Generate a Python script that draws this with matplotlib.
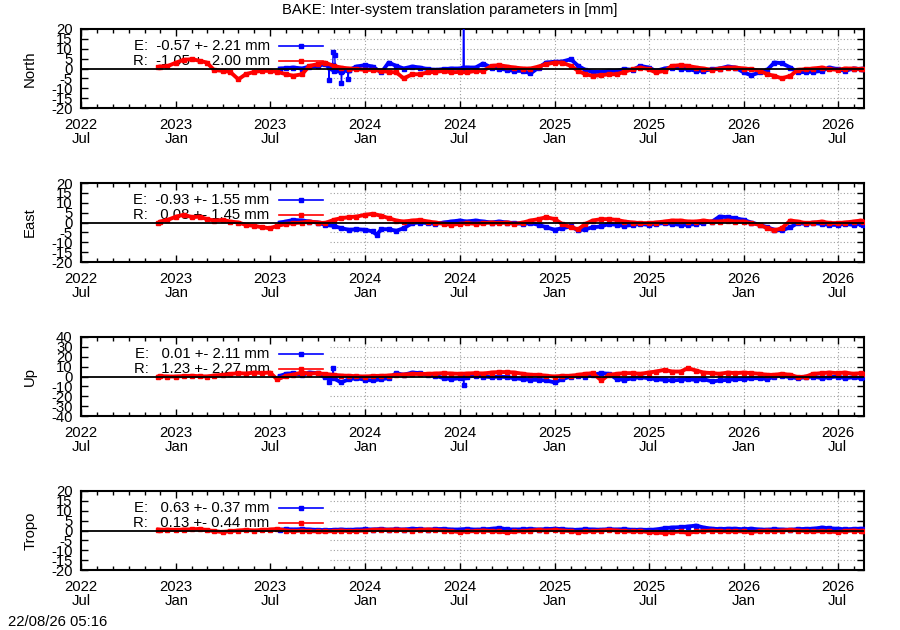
import numpy as np
import pandas as pd
import matplotlib
matplotlib.use('Agg')
import matplotlib.pyplot as plt

plt.rcParams['font.family'] = ['Liberation Sans', 'DejaVu Sans']
plt.rcParams['font.size'] = 10.7

# sampling dates (1st and 15th of each month), series start/end days
red_dates = ([pd.Timestamp('2022-11-27')]
             + list(pd.date_range('2022-12-01', '2026-08-15', freq='SMS'))
             + [pd.Timestamp('2026-08-20')])
blue_dates = ([pd.Timestamp('2023-07-20')]
              + list(pd.date_range('2023-08-01', '2026-08-15', freq='SMS'))
              + [pd.Timestamp('2026-08-20')])

# ---------------- North ----------------
north_r = [0.8, 1.0, 1.2,
           3.0, 4.4, 4.7, 3.9, 3.0, -0.8, -1.2, -1.7, -5.5, -2.9, -1.7, -1.2,
           -1.2, -1.7, -2.9, -3.7, -2.9, 1.3, 2.2, 3.0, 1.3, 0.5, 0.0, -0.3,
           -0.7, -0.7, -1.2, -1.7, -2.0, -5.0, -2.9, -2.9, -2.0, -1.7, -1.2, -2.0,
           -1.7, -2.0, -1.2, -1.2, 1.3, 1.7, 1.0, 0.5, 0.0, 0.0, 1.0, 2.2,
           3.0, 3.0, 1.3, -1.2, -2.9, -3.7, -3.4, -2.9, -2.9, -1.7, -0.3, 0.5,
           -0.3, -2.0, -1.2, 1.3, 1.7, 1.3, 0.5, 0.0, -0.7, 0.0, 0.5, 0.5,
           0.0, -0.3, -1.2, -2.9, -3.7, -5.0, -3.7, -0.7, -0.3, 0.0, 0.5, -0.3,
           -0.7, 0.0, 0.0, -0.3, -0.3]
north_e = [0.0, 0.2, 0.5, 0.0, 1.0, 1.3, 2.2, -1.2, -1.7, -0.7, 1.0,
           1.7, 1.0, -2.0, 3.0, 1.3, 0.0, 1.0, 0.5, -0.3, -0.7, -0.3, 0.0,
           0.0, 0.5, 0.5, 2.5, 0.5, 0.0, -0.7, -1.2, -1.2, -2.5, 0.5, 3.0,
           3.4, 3.5, 4.7, 1.3, -0.7, -1.7, -1.7, -1.2, -1.2, -0.3, -0.7, 1.3,
           0.5, -1.2, 0.0, 0.5, 0.0, -0.3, -1.2, -1.2, -0.3, 0.0, 1.0, 0.5,
           -2.0, -3.4, -2.0, -0.7, 3.0, 2.7, 0.5, -2.0, -1.7, -1.7, -1.2, 0.5,
           -0.3, -1.2, 0.0, -0.3, -0.3]
# isolated outliers of E (drawn as thin excursions)
north_e_spike_dates = [['2023-10-22', '2023-10-23', '2023-10-24'],
                       ['2023-10-30', '2023-10-31', '2023-11-03', '2023-11-04'],
                       ['2023-11-15', '2023-11-16', '2023-11-17'],
                       ['2023-11-28', '2023-11-29', '2023-11-30'],
                       ['2024-07-08', '2024-07-09', '2024-07-10']]
north_e_spike_vals = [[1.0, -5.7, 0.5],
                      [2.0, 8.4, 6.8, 0.0],
                      [-1.0, -7.4, -1.5],
                      [-1.0, -5.4, -1.0],
                      [0.3, 60.0, 0.3]]

# ---------------- East ----------------
east_r = [-0.3, 0.5, 1.3,
          3.0, 3.9, 2.7, 3.0, 1.7, 1.0, 1.3, 0.5, 0.0, -1.2, -1.7, -2.4,
          -2.9, -1.7, -0.7, -0.3, 0.0, 0.5, 0.0, -0.3, 1.3, 2.2, 2.7, 3.0,
          3.9, 4.4, 3.4, 2.2, 1.0, 0.5, 1.0, 1.3, 0.5, 0.0, -0.7, -1.2,
          -0.7, -0.3, -0.7, -0.3, 0.0, -0.3, 0.0, -0.7, 0.0, 1.0, 1.7, 2.7,
          1.7, -0.7, -2.4, -3.5, -0.7, 1.0, 1.7, 1.7, 1.3, 0.5, 0.0, -0.3,
          -0.3, 0.0, 0.5, 1.0, 1.0, 0.5, 0.5, 1.0, 0.5, 0.5, 1.0, 0.5,
          0.5, -0.3, -1.2, -2.9, -4.0, -2.9, 1.0, 0.5, -0.3, 0.0, 0.5, -0.3,
          -0.3, 0.0, 0.5, 1.0, 0.5]
east_e = [0.0, 0.5, 1.3, 1.0, 0.5, 0.0, -1.2, -1.7, -2.9, -3.7, -3.4,
          -3.7, -4.5, -3.4, -3.4, -4.2, -2.9, -0.3, 0.0, -0.3, -0.7, 0.0, 0.5,
          1.0, 0.5, 1.0, 0.5, 0.0, 0.5, 0.0, -0.3, -0.7, -0.3, -1.2, -2.4,
          -3.7, -2.9, -2.0, -4.0, -3.4, -2.4, -2.0, -0.7, -1.2, -1.7, -1.2, -0.7,
          -1.2, -0.7, -0.3, -0.7, -1.2, -1.2, -0.7, 0.0, 0.5, 3.0, 2.7, 2.2,
          1.3, 0.0, -1.2, -2.4, -3.7, -4.0, -2.4, -0.3, -0.7, -0.3, -0.7, -1.2,
          -1.2, -0.7, -1.2, -0.7, -1.2]
east_e_extra_dates = ['2024-01-23']
east_e_extra_vals = [-6.2]

# ---------------- Up ----------------
up_r = [0.0, 0.5, 0.0,
        0.0, 0.5, 0.7, 0.3, 0.0, 1.0, 1.7, 2.5, 3.4, 3.0, 4.0, 3.5,
        4.0, -3.0, 0.7, 2.0, 4.0, 3.0, 3.4, 2.5, 1.7, 1.0, 0.7, 0.3,
        0.0, 0.5, 0.7, 1.0, 1.7, 2.0, 2.7, 2.5, 2.7, 3.0, 3.4, 3.0,
        2.7, 3.0, 3.4, 3.0, 4.0, 4.5, 4.5, 4.0, 2.7, 1.7, 1.7, 0.7,
        0.0, 0.7, 0.7, 1.7, 2.7, 3.4, -4.0, 1.7, 2.7, 3.4, 3.4, 2.7,
        4.0, 5.0, 6.8, 5.0, 5.0, 8.4, 6.0, 4.0, 3.4, 2.7, 4.0, 3.4,
        4.0, 3.4, 2.7, 1.7, 1.7, 2.7, 1.7, -0.7, 0.0, 2.7, 3.4, 4.0,
        3.4, 4.0, 2.7, 3.4, 2.7]
up_e = [0.5, 2.7, 3.4, 1.7, 4.0, 3.4, -1.0, -1.7, -6.0, -2.7, -1.7,
        -3.4, -4.0, -2.7, -1.7, 3.4, 1.7, 4.0, 3.4, 1.7, 0.7, -1.7, -2.7,
        -1.7, 0.0, 0.7, 0.0, -0.7, 0.0, -0.7, -1.7, -2.7, -3.4, -3.4, -4.0,
        -6.0, -2.7, 0.0, 0.7, 0.0, 1.7, 3.4, 2.7, -2.7, -3.4, -1.7, -0.7,
        -1.7, -2.7, -3.4, -4.0, -3.4, -2.7, -3.4, -2.7, -5.0, -4.0, -3.4, -2.7,
        -2.7, -1.7, -1.7, -2.7, 0.0, 0.7, -0.7, -1.7, -0.7, 0.0, -1.7, -0.7,
        0.0, -1.7, -0.7, -1.7, -0.7]
up_e_spike_dates = [['2023-10-22', '2023-10-23', '2023-10-24'],
                    ['2023-10-30', '2023-10-31', '2023-11-01'],
                    ['2024-07-08', '2024-07-09', '2024-07-10']]
up_e_spike_vals = [[1.0, -6.0, 0.0],
                   [1.0, 9.0, 0.0],
                   [-1.0, -8.4, -1.0]]

# ---------------- Tropo ----------------
tropo_r = [0.5, 0.3, 0.5,
           0.3, 0.5, 0.6, 0.8, 0.2, -0.3, -0.8, -0.3, 0.0, 0.3, 0.0, 0.3,
           0.5, 0.8, 0.0, -0.3, 0.0, -0.3, -0.5, -0.5, -0.3, 0.0, -0.3, -0.2,
           0.0, 0.3, 0.5, 0.3, 0.5, 0.3, 0.0, 0.3, 0.5, 0.3, 0.0, -0.3,
           -0.8, -0.5, -0.3, 0.0, -0.3, -0.5, -1.0, -0.5, -0.3, 0.0, 0.3, 0.0,
           0.3, 0.0, -0.3, -0.8, -0.5, -0.3, 0.0, 0.3, 0.0, -0.3, -0.5, -0.3,
           -0.8, -1.0, -1.3, -0.8, -0.5, -1.3, -0.5, -0.3, 0.0, -0.3, -0.5, -0.3,
           -0.5, -0.8, -0.3, 0.0, -0.3, 0.0, 0.3, 0.0, -0.3, -0.5, -0.3, -0.5,
           -0.8, -0.3, 0.0, -0.3, -0.3]
tropo_e = [0.3, 0.7, 0.5, 0.7, 0.5, 0.3, 0.2, 0.3, 0.5, 0.3, 0.5,
           0.7, 0.5, 0.8, 0.4, 0.7, 0.5, 0.9, 0.7, 0.4, 0.7, 0.8, 0.5,
           0.5, 0.8, 0.4, 0.6, 0.8, 1.3, 0.6, 0.5, 0.6, 0.8, 0.5, 0.7,
           0.9, 0.7, 0.4, 0.3, 0.7, 0.5, 0.4, 0.7, 0.5, 0.7, 0.3, 0.4,
           0.3, 0.5, 1.2, 1.5, 1.7, 2.0, 2.5, 1.5, 0.9, 0.7, 0.9, 0.9,
           0.6, 0.9, 0.5, 0.4, 0.7, 0.5, 0.4, 0.7, 0.8, 0.9, 1.5, 1.1,
           0.9, 0.6, 0.8, 0.9, 0.6]

panels = [
    ('North', north_r, north_e, [], [], north_e_spike_dates, north_e_spike_vals, 20,
     'E:  -0.57 +- 2.21 mm', 'R:  -1.05 +- 2.00 mm'),
    ('East', east_r, east_e, east_e_extra_dates, east_e_extra_vals, [], [], 20,
     'E:  -0.93 +- 1.55 mm', 'R:   0.08 +- 1.45 mm'),
    ('Up', up_r, up_e, [], [], up_e_spike_dates, up_e_spike_vals, 40,
     'E:   0.01 +- 2.11 mm', 'R:   1.23 +- 2.27 mm'),
    ('Tropo', tropo_r, tropo_e, [], [], [], [], 20,
     'E:   0.63 +- 0.37 mm', 'R:   0.13 +- 0.44 mm'),
]

W, H = 900, 630
fig = plt.figure(figsize=(9, 6.3), dpi=100)
fig.text(0.5, 1 - 10 / H, 'BAKE: Inter-system translation parameters in [mm]',
         ha='center', va='center')
fig.text(8 / W, 1 - 622 / H, '22/08/26 05:16', ha='left', va='center')

xmin, xmax = pd.Timestamp('2022-07-01'), pd.Timestamp('2026-08-21')
major = pd.date_range('2022-07-01', '2026-07-01', freq='6MS')
minor = pd.date_range('2022-07-01', '2026-08-01', freq='MS')
grid_start = pd.Timestamp('2023-10-25')
tops = [29, 183, 337, 491]
grey = '#a0a0a0'
blue, red = '#0000ff', '#ff0000'

for (name, rv, ev, xd, xv, sd, sv, lim, etxt, rtxt), top in zip(panels, tops):
    ax = fig.add_axes([81 / W, 1 - (top + 79) / H, 783 / W, 79 / H])
    step = lim / 4
    yt = np.arange(-lim, lim + step, step)

    e = pd.Series(ev, index=blue_dates)
    if xd:
        e = pd.concat([e, pd.Series(xv, index=pd.to_datetime(xd))]).sort_index()
    r = pd.Series(rv, index=red_dates)

    ax.plot(e.index, e.values, color=blue, lw=2.8, marker='s', ms=2.5, zorder=3)
    for dd, vv in zip(sd, sv):
        ax.plot(pd.to_datetime(dd), vv, color=blue, lw=1.0, marker='s', ms=2.5, zorder=3)
    ax.plot(r.index, r.values, color=red, lw=2.8, marker='s', ms=2.5, zorder=4)
    ax.axhline(0, color='black', lw=1.3, zorder=5)

    # grid only to the right of the key
    gx = (grid_start - xmin) / (xmax - xmin)
    for y in yt[1:-1]:
        if y != 0:
            ax.axhline(y, xmin=gx, xmax=1, color=grey, lw=0.8, ls=(0, (1, 2)), zorder=1)
    for d in major:
        if d >= grid_start:
            ax.axvline(d, color=grey, lw=0.8, ls=(0, (1, 2)), zorder=1)

    ax.set_xlim(xmin, xmax)
    ax.set_ylim(-lim, lim)
    ax.set_yticks(yt)
    ax.set_yticklabels([f'{int(v)}' for v in yt])
    ax.set_xticks(major)
    ax.set_xticklabels([f'{d.year}\n{d:%b}' for d in major], linespacing=1.0)
    ax.set_xticks(minor, minor=True)
    ax.tick_params(which='both', direction='in', top=True, right=True, width=1)
    ax.tick_params(which='major', length=5)
    ax.tick_params(which='minor', length=3)
    ax.tick_params(axis='x', pad=7)
    ax.tick_params(axis='y', pad=6)
    for s in ax.spines.values():
        s.set_linewidth(1.5)
    ax.set_ylabel(name)
    ax.yaxis.set_label_coords(-0.056, 0.5)

    # key
    for txt, col, yk in [(etxt, blue, 0.785), (rtxt, red, 0.595)]:
        ax.text(0.241, yk, txt, transform=ax.transAxes, ha='right', va='center', zorder=2)
        ax.plot([0.253, 0.309], [yk, yk], transform=ax.transAxes, color=col, lw=1.2,
                clip_on=False, zorder=2)
        ax.plot([0.281], [yk], transform=ax.transAxes, color=col, marker='s', ms=3,
                clip_on=False, zorder=2)

fig.savefig('out.png', dpi=100)
